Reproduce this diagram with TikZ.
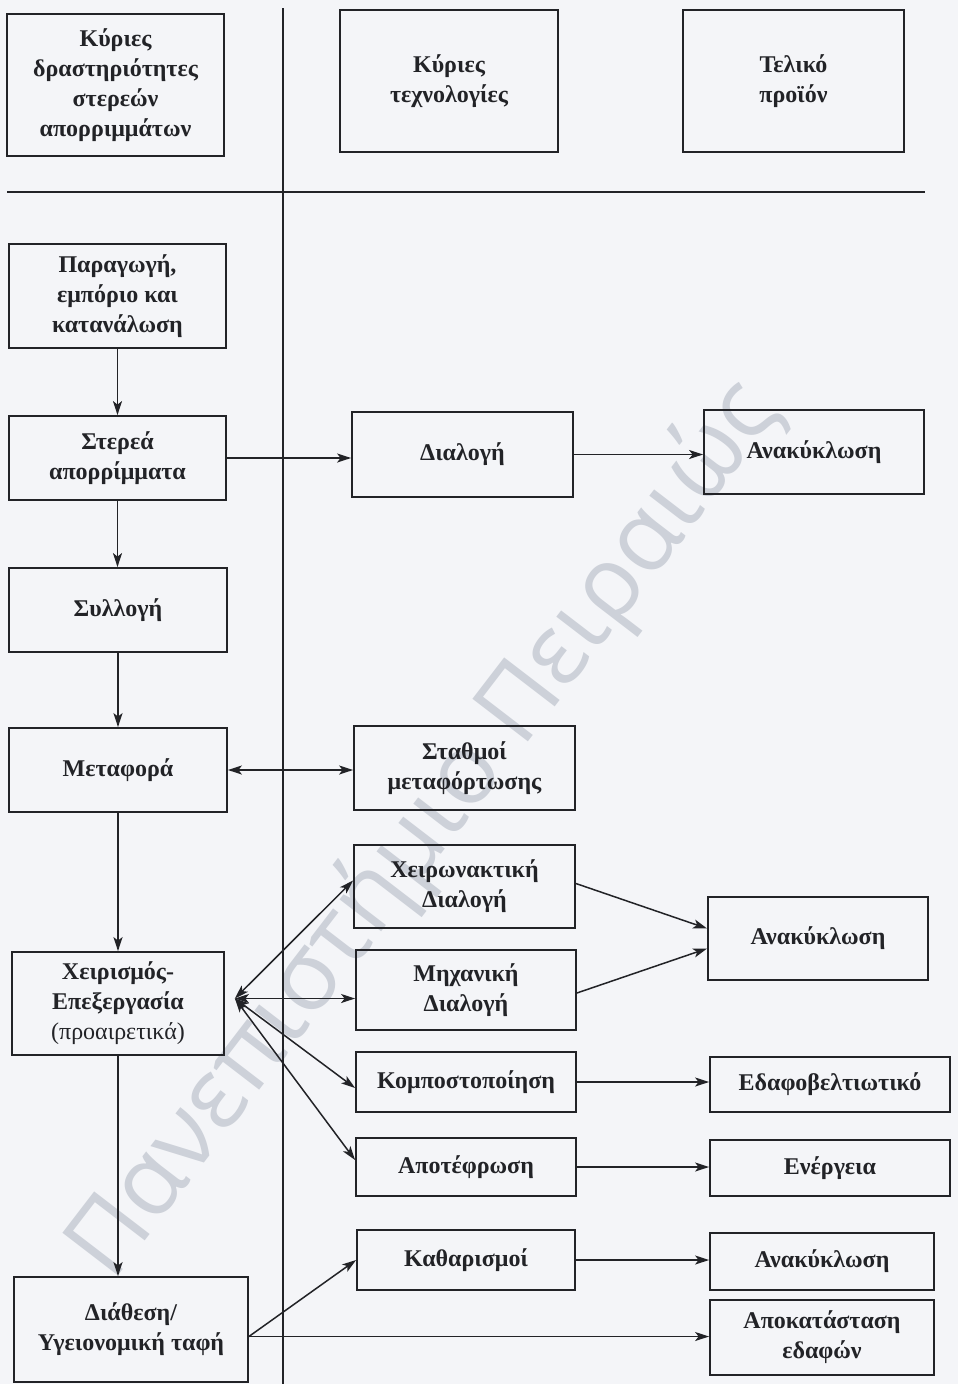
\documentclass[tikz,border=0pt]{standalone}
\usepackage{fontspec}
\setmainfont{Liberation Serif}
\newfontfamily\wmfont{Open Sans}
\usetikzlibrary{arrows.meta,calc}

\definecolor{paper}{HTML}{F4F5F8}
\definecolor{ink}{HTML}{222327}
\definecolor{wmark}{HTML}{CDD1D9}

\tikzset{
  stage/.style={draw=ink, line width=1.8pt, inner sep=0pt, align=center,
    text=ink, font=\fontsize{24}{30}\selectfont\bfseries},
  flow/.style={draw=ink, line width=1.5pt,
    -{Stealth[length=14pt,width=9pt,inset=3.5pt]}},
  biflow/.style={draw=ink, line width=1.5pt,
    {Stealth[length=14pt,width=9pt,inset=3.5pt]}-{Stealth[length=14pt,width=9pt,inset=3.5pt]}},
  rule/.style={draw=ink, line width=1.5pt}
}

\begin{document}
\begin{tikzpicture}[x=1pt,y=-1pt]
\useasboundingbox (0,0) rectangle (958,1384);
\fill[paper] (0,0) rectangle (958,1384);

% watermark
\node[rotate=52.5, text=wmark, font=\wmfont\fontsize{98}{98}\selectfont]
  (wm) at (425,830) {Πανεπιστήμιο Πειραιώς};

% column header boxes and separators
\node[stage, minimum width=217pt, minimum height=142pt] (h1) at (115.5,85)
  {Κύριες\\δραστηριότητες\\στερεών\\απορριμμάτων};
\node[stage, minimum width=218pt, minimum height=142pt] (h2) at (449,81)
  {Κύριες\\τεχνολογίες};
\node[stage, minimum width=221pt, minimum height=142pt] (h3) at (793.5,81)
  {Τελικό\\προϊόν};
\draw[rule] (283,8) -- (283,1384);
\draw[rule] (7,192) -- (925,192);

% activities
\node[stage, minimum width=217pt, minimum height=104pt] (p1) at (117.5,296)
  {Παραγωγή,\\εμπόριο και\\κατανάλωση};
\node[stage, minimum width=217pt, minimum height=84pt] (p2) at (117.5,458)
  {Στερεά\\απορρίμματα};
\node[stage, minimum width=218pt, minimum height=84pt] (p3) at (118,610)
  {Συλλογή};
\node[stage, minimum width=218pt, minimum height=84pt] (p4) at (118,770)
  {Μεταφορά};
\node[stage, minimum width=212pt, minimum height=103pt] (p5) at (118,1003.5)
  {Χειρισμός-\\Επεξεργασία\\\mdseries(προαιρετικά)};
\node[stage, minimum width=234pt, minimum height=105pt] (p6) at (131,1329.5)
  {Διάθεση/\\Υγειονομική ταφή};

% technologies
\node[stage, minimum width=221pt, minimum height=85pt] (m1) at (462.5,454.5)
  {Διαλογή};
\node[stage, minimum width=221pt, minimum height=84pt] (m2) at (464.5,768)
  {Σταθμοί\\μεταφόρτωσης};
\node[stage, minimum width=221pt, minimum height=83pt] (m3) at (464.5,886.5)
  {Χειρωνακτική\\Διαλογή};
\node[stage, minimum width=220pt, minimum height=80pt] (m4) at (466,990)
  {Μηχανική\\Διαλογή};
\node[stage, minimum width=220pt, minimum height=60pt] (m5) at (466,1082)
  {Κομποστοποίηση};
\node[stage, minimum width=220pt, minimum height=58pt] (m6) at (466,1167)
  {Αποτέφρωση};
\node[stage, minimum width=218pt, minimum height=60pt] (m7) at (466,1260)
  {Καθαρισμοί};

% end products
\node[stage, minimum width=220pt, minimum height=84pt] (r1) at (814,452)
  {Ανακύκλωση};
\node[stage, minimum width=220pt, minimum height=83pt] (r2) at (818,938.5)
  {Ανακύκλωση};
\node[stage, minimum width=240pt, minimum height=55pt] (r3) at (830,1084.5)
  {Εδαφοβελτιωτικό};
\node[stage, minimum width=240pt, minimum height=56pt] (r4) at (830,1168)
  {Ενέργεια};
\node[stage, minimum width=224pt, minimum height=57pt] (r5) at (822,1261.5)
  {Ανακύκλωση};
\node[stage, minimum width=224pt, minimum height=75pt] (r6) at (822,1337.5)
  {Αποκατάσταση\\εδαφών};

% main chain
\draw[flow] (p1.south) -- (p1.south |- p2.north);
\draw[flow] (p2.south) -- (p2.south |- p3.north);
\draw[flow] (p3.south) -- (p3.south |- p4.north);
\draw[flow] (p4.south) -- (p4.south |- p5.north);
\draw[flow] (p5.south) -- (p5.south |- p6.north);

% branches
\draw[flow] (p2.east) -- (p2.east -| m1.west);
\draw[flow] (m1.east) -- (m1.east -| r1.west);
\draw[biflow] (p4.east) -- (p4.east -| m2.west);

\coordinate (hub) at ($(p5.east)+(10,-5)$);
\draw[biflow] (hub) -- ($(m3.west)+(0,-6)$);
\draw[biflow] (hub) -- (hub -| m4.west);
\draw[biflow] (hub) -- ($(m5.west)+(0,6)$);
\draw[biflow] (hub) -- ($(m6.west)+(0,-7)$);

\draw[flow] ($(m3.east)+(0,-3)$) -- ($(r2.west)+(0,-10)$);
\draw[flow] ($(m4.east)+(0,3)$) -- ($(r2.west)+(0,10)$);
\draw[flow] (m5.east) -- (m5.east -| r3.west);
\draw[flow] (m6.east) -- (m6.east -| r4.west);
\draw[flow] (m7.east) -- (m7.east -| r5.west);

\coordinate (dhub) at ($(p6.east)+(0,7)$);
\draw[flow] (dhub) -- (m7.west);
\draw[flow] (dhub) -- (dhub -| r6.west);
\end{tikzpicture}
\end{document}
